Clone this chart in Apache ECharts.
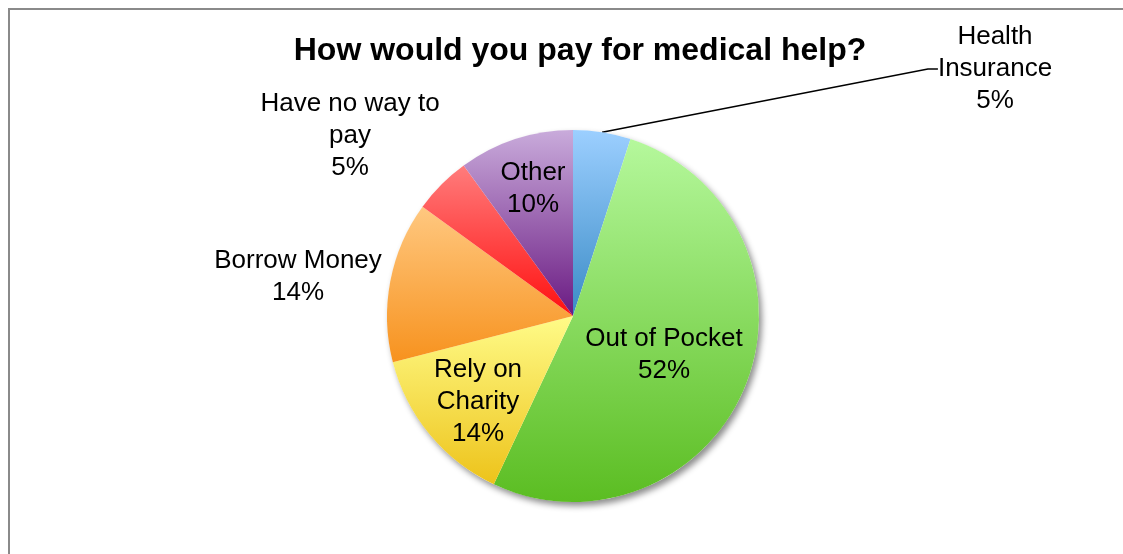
<!DOCTYPE html>
<html>
<head>
<meta charset="utf-8">
<script src="https://cdn.jsdelivr.net/npm/echarts@6/dist/echarts.min.js"></script>
<style>
html,body{margin:0;padding:0;background:#fff;}
#chart{width:1123px;height:554px;}
</style>
</head>
<body>
<div id="chart"></div>
<script>
const titleText = 'How would you pay for medical help?';
const categories = ['Health\nInsurance', 'Out of Pocket', 'Rely on\nCharity', 'Borrow Money', 'Have no way to\npay', 'Other'];
const values = [5, 52, 14, 14, 5, 10];
const topColors = ['#9ccfff', '#b5f89c', '#fffb88', '#ffc880', '#ff7c7c', '#c9abdb'];
const bottomColors = ['#3a8bc6', '#5bbd22', '#edc31a', '#f7921e', '#ff1010', '#6a1a82'];
// label anchor positions (layout only)
const labelPos = [[995, 69], [664, 355], [478, 402], [298, 277], [350, 136], [533, 189]];

const center = [573, 316];
const radius = 186;
const font = '"Liberation Sans", Arial, sans-serif';

const chart = echarts.init(document.getElementById('chart'), null, {renderer: 'canvas'});

const data = categories.map((c, i) => ({
  name: c,
  value: values[i],
  itemStyle: {
    color: new echarts.graphic.LinearGradient(0, 0, 0, 1, [
      {offset: 0, color: topColors[i]},
      {offset: 1, color: bottomColors[i]}
    ])
  },
  labelLine: {show: i === 0}
}));

const total = values.reduce((a, b) => a + b, 0);

chart.setOption({
  animation: false,
  backgroundColor: '#fff',
  title: {
    text: titleText,
    left: 575,
    textAlign: 'center',
    top: 30,
    textStyle: {fontFamily: font, fontWeight: 'bold', fontSize: 32, color: '#000'}
  },
  graphic: [{
    type: 'rect',
    shape: {x: 9, y: 9, width: 1300, height: 700},
    style: {fill: 'none', stroke: '#8a8a8a', lineWidth: 2},
    silent: true,
    z: 0
  }],
  series: [
    {
      type: 'pie',
      silent: true,
      center: center,
      radius: radius,
      startAngle: 90,
      label: {show: false},
      labelLine: {show: false},
      data: [{value: total, itemStyle: {color: '#ffffff', shadowBlur: 6, shadowOffsetX: 3, shadowOffsetY: 4, shadowColor: 'rgba(0,0,0,0.45)'}}],
      z: 1
    },
    {
      type: 'pie',
      center: center,
      radius: radius,
      startAngle: 90,
      clockwise: true,
      avoidLabelOverlap: false,
      z: 2,
      itemStyle: {borderWidth: 0},
      label: {
        show: true,
        position: 'outside',
        formatter: p => p.name + '\n' + Math.round(p.percent) + '%',
        fontFamily: font,
        fontSize: 26,
        lineHeight: 32,
        color: '#000',
        align: 'center'
      },
      labelLine: {
        show: true,
        length: 20,
        length2: 10,
        lineStyle: {color: '#000', width: 1.5}
      },
      labelLayout: function (params) {
        const p = labelPos[params.dataIndex];
        return {x: p[0], y: p[1], align: 'center', verticalAlign: 'middle'};
      },
      data: data
    }
  ]
});
</script>
</body>
</html>
